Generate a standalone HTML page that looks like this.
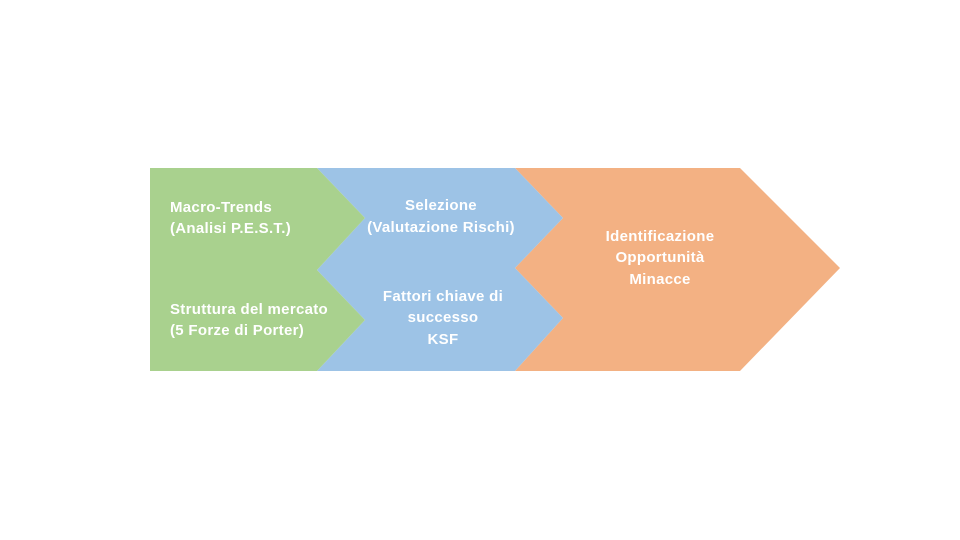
<!DOCTYPE html>
<html><head><meta charset="utf-8"><style>
html,body{margin:0;padding:0;background:#fff}
svg{display:block}
text{font-family:"Liberation Sans",sans-serif;font-size:15px;font-weight:bold;letter-spacing:0.3px;fill:#fff}
</style></head><body>
<svg width="960" height="540" viewBox="0 0 960 540">
<polygon fill="#F3B183" points="515,168 740,168 840,268 740,371 515,371 563,318 515,268 563,218"/>
<polygon fill="#9DC3E6" points="317,168 515,168 563,218 515,268 563,318 515,371 317,371 365,320 317,270 365,218"/>
<polygon fill="#A9D18E" points="150,168 317,168 365,218 317,270 365,320 317,371 150,371"/>
<text x="170" y="212">Macro-Trends</text>
<text x="170" y="233">(Analisi P.E.S.T.)</text>
<text x="170" y="314">Struttura del mercato</text>
<text x="170" y="335">(5 Forze di Porter)</text>
<text x="441" y="210" text-anchor="middle">Selezione</text>
<text x="441" y="232" text-anchor="middle">(Valutazione Rischi)</text>
<text x="443" y="301" text-anchor="middle">Fattori chiave di</text>
<text x="443" y="322" text-anchor="middle">successo</text>
<text x="443" y="344" text-anchor="middle">KSF</text>
<text x="660" y="241" text-anchor="middle">Identificazione</text>
<text x="660" y="262" text-anchor="middle">Opportunità</text>
<text x="660" y="284" text-anchor="middle">Minacce</text>
</svg>
</body></html>
